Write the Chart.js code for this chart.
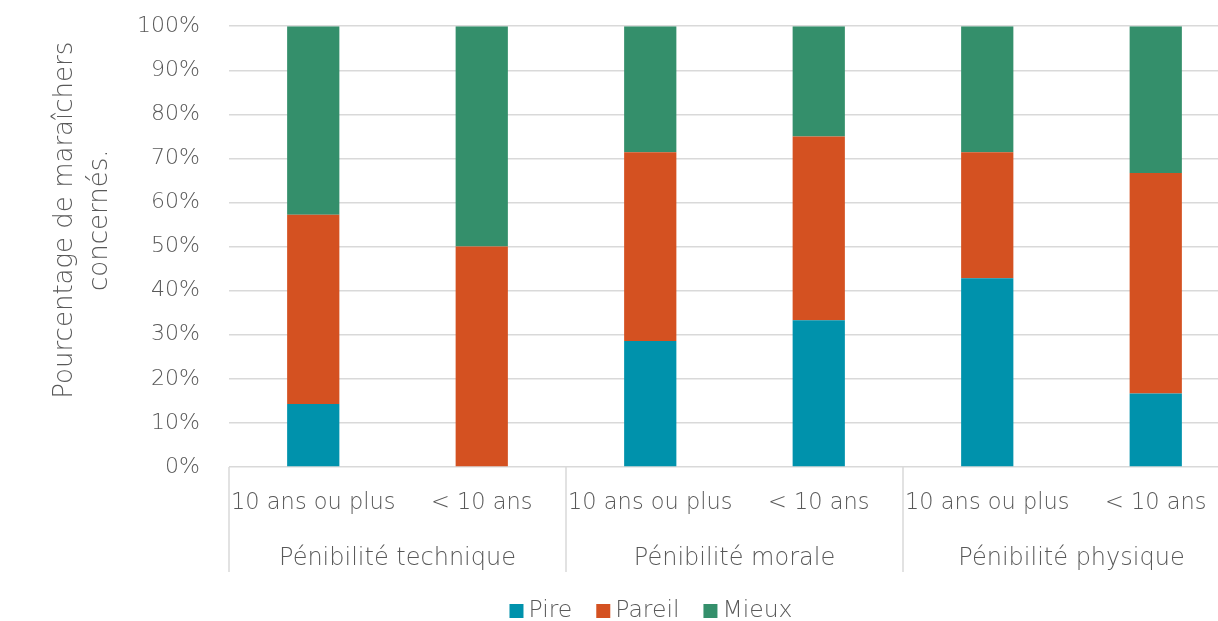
<!DOCTYPE html>
<html>
<head>
<meta charset="utf-8">
<script src="https://cdn.jsdelivr.net/npm/chart.js@4"></script>
<style>
  html, body { margin: 0; padding: 0; background: #fff; overflow: hidden; }
  #wrap { width: 1250px; height: 637px; margin-top: -16px; }
</style>
</head>
<body>
<div id="wrap"><canvas id="c" width="1250" height="637"></canvas></div>
<script>
// Sub-categories (seniority) and their parent groups
const ageLabels = ['10 ans ou plus', '< 10 ans', '10 ans ou plus', '< 10 ans', '10 ans ou plus', '< 10 ans'];
const groupLabels = ['Pénibilité technique', 'Pénibilité morale', 'Pénibilité physique'];

// Share of growers (%) per answer
const pire   = [14.3, 0,    28.6, 33.3, 42.8, 16.7];
const pareil = [42.9, 50,   42.8, 41.7, 28.6, 50];
const mieux  = [42.8, 50,   28.6, 25,   28.6, 33.3];

const yTitle = ['Pourcentage de maraîchers', 'concernés.'];

const FONT = "'DejaVu Sans', sans-serif";
const WEIGHT = 200;
const TEXT = '#595959';
const GRID = '#d9d9d9';

// Vertical separators between the category groups, below the plot
const groupSeparators = {
  id: 'groupSeparators',
  afterDraw(chart) {
    const x = chart.scales.x, x2 = chart.scales.x2, ctx = chart.ctx;
    const half = (x.getPixelForValue(1) - x.getPixelForValue(0)) / 2;
    ctx.save();
    ctx.strokeStyle = GRID;
    ctx.lineWidth = 1.5;
    for (let g = 0; g <= groupLabels.length; g++) {
      const px = g < groupLabels.length
        ? x.getPixelForValue(g * 2) - half
        : x.getPixelForValue(ageLabels.length - 1) + half;
      ctx.beginPath();
      ctx.moveTo(px, chart.chartArea.bottom);
      ctx.lineTo(px, x2.bottom);
      ctx.stroke();
    }
    ctx.restore();
  }
};

// Two-line rotated title of the value axis, centred on the plot's upper half
const yAxisTitle = {
  id: 'yAxisTitle',
  afterDraw(chart) {
    const ctx = chart.ctx;
    const area = chart.chartArea;
    ctx.save();
    ctx.fillStyle = TEXT;
    ctx.font = `${WEIGHT} 26px ${FONT}`;
    ctx.textAlign = 'center';
    ctx.textBaseline = 'middle';
    ctx.translate(65, area.top + 194);
    ctx.rotate(-Math.PI / 2);
    yTitle.forEach((line, i) => ctx.fillText(line, 0, i * 35));
    ctx.restore();
  }
};

// Legend row under the chart
const bottomLegend = {
  id: 'bottomLegend',
  afterDraw(chart) {
    const ctx = chart.ctx;
    const box = 14, gapText = 5, gapItem = 24, cx = 651;
    const cy = chart.scales.x2.bottom + 39;
    ctx.save();
    ctx.font = `${WEIGHT} 23.5px ${FONT}`;
    ctx.textBaseline = 'middle';
    const items = chart.data.datasets.map(d => ({
      label: d.label, color: d.backgroundColor,
      w: box + gapText + ctx.measureText(d.label).width
    }));
    const total = items.reduce((s, it) => s + it.w, 0) + gapItem * (items.length - 1);
    let xPos = cx - total / 2;
    items.forEach(it => {
      ctx.fillStyle = it.color;
      ctx.fillRect(xPos, cy - box / 2, box, box);
      ctx.fillStyle = TEXT;
      ctx.fillText(it.label, xPos + box + gapText, cy);
      xPos += it.w + gapItem;
    });
    ctx.restore();
  }
};

new Chart(document.getElementById('c'), {
  type: 'bar',
  data: {
    labels: ageLabels,
    datasets: [
      { label: 'Pire',   data: pire,   backgroundColor: '#0092ac' },
      { label: 'Pareil', data: pareil, backgroundColor: '#d45121' },
      { label: 'Mieux',  data: mieux,  backgroundColor: '#348f6b' }
    ]
  },
  options: {
    responsive: false,
    animation: false,
    layout: { padding: { top: 10, right: 10, bottom: 49, left: 0 } },
    datasets: { bar: { barPercentage: 0.31, categoryPercentage: 1 } },
    plugins: { legend: { display: false }, tooltip: { enabled: false } },
    scales: {
      y: {
        stacked: true,
        min: 0, max: 100,
        ticks: {
          stepSize: 10,
          padding: 29,
          color: TEXT,
          font: { family: FONT, size: 22, weight: WEIGHT },
          callback: v => v + '%'
        },
        grid: { color: GRID, lineWidth: 1.5, drawTicks: false },
        border: { display: false },
        afterFit: s => { s.width = 229; }
      },
      x: {
        stacked: true,
        ticks: {
          padding: 15,
          maxRotation: 0, autoSkip: false,
          color: TEXT,
          font: { family: FONT, size: 22.5, weight: WEIGHT }
        },
        grid: { display: false },
        border: { display: false },
        afterFit: s => { s.height = 53; }
      },
      x2: {
        type: 'category',
        position: 'bottom',
        labels: groupLabels,
        ticks: {
          padding: 16,
          maxRotation: 0, autoSkip: false,
          color: TEXT,
          font: { family: FONT, size: 24, weight: WEIGHT }
        },
        grid: { display: false },
        border: { display: false },
        afterFit: s => { s.height = 52; }
      }
    }
  },
  plugins: [groupSeparators, yAxisTitle, bottomLegend]
});
</script>
</body>
</html>
